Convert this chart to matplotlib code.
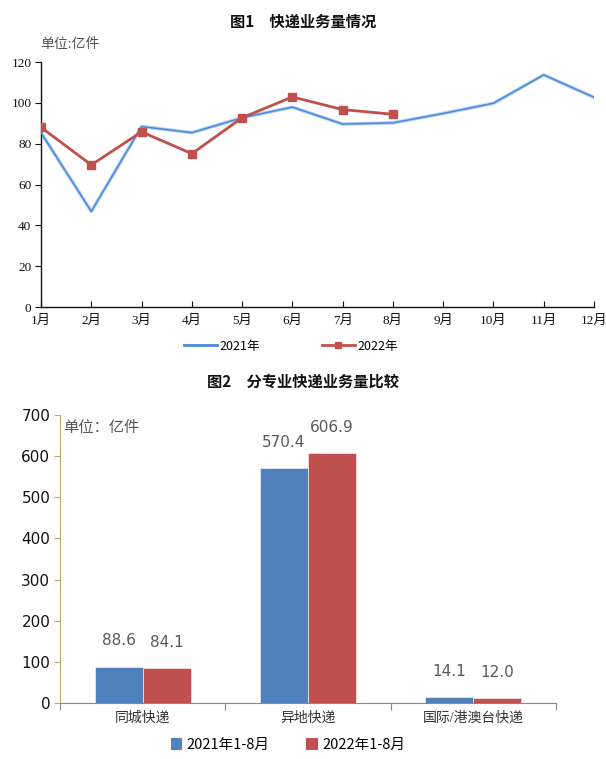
import matplotlib
matplotlib.use("Agg")
import matplotlib.pyplot as plt
from matplotlib.lines import Line2D
from matplotlib.patches import Patch
import numpy as np

# ---- data ----
months = ["1月", "2月", "3月", "4月", "5月", "6月", "7月", "8月", "9月", "10月", "11月", "12月"]
vol_2021 = [85.4, 46.8, 88.4, 85.4, 92.7, 97.9, 89.6, 90.2, 94.8, 99.8, 113.7, 102.7]
vol_2022 = [88.0, 69.6, 85.8, 75.1, 92.7, 102.9, 96.7, 94.4]
y1_ticks = [0, 20, 40, 60, 80, 100, 120]

categories = ["同城快递", "异地快递", "国际/港澳台快递"]
bar_2021 = [88.6, 570.4, 14.1]
bar_2022 = [84.1, 606.9, 12.0]
y2_ticks = [0, 100, 200, 300, 400, 500, 600, 700]

SANS = ["Noto Sans CJK SC", "DejaVu Sans"]
SERIF = ["Liberation Serif", "Noto Sans CJK SC"]
plt.rcParams["font.family"] = SANS

fig = plt.figure(figsize=(6.06, 7.59), dpi=100)

# ---------- Figure 1 ----------
fig.text(0.5, 0.971, "图1　快递业务量情况", ha="center", va="center",
         fontsize=11, fontweight="bold", color="#111111")
ax1 = fig.add_axes([0.0677, 0.5955, 0.9125, 0.3228])
x = np.arange(len(months))
ax1.plot(x, vol_2021, color="#B5D0F2", lw=2.6, solid_capstyle="round", zorder=2)
ax1.plot(x, vol_2021, color="#4A88D9", lw=1.1, zorder=3)
ax1.plot(np.arange(len(vol_2022)), vol_2022, color="#C0504D", lw=2.0,
         marker="s", markersize=5.5, zorder=4)
ax1.set_xlim(0, 11)
ax1.set_ylim(0, 120)
ax1.set_xticks(x)
ax1.set_xticklabels(months, fontfamily=SERIF, fontsize=9.5)
ax1.set_yticks(y1_ticks)
ax1.set_yticklabels([str(v) for v in y1_ticks], fontfamily=SERIF, fontsize=9.5)
ax1.tick_params(axis="x", direction="in", length=4, pad=6, colors="#111111")
ax1.tick_params(axis="y", direction="out", length=4, pad=3, colors="#111111")
for s in ["top", "right"]:
    ax1.spines[s].set_visible(False)
for s in ["left", "bottom"]:
    ax1.spines[s].set_color("#111111")
    ax1.spines[s].set_linewidth(1.0)
fig.text(0.067, 0.942, "单位:亿件", fontsize=10, color="#555555",
         fontfamily=SERIF, ha="left", va="center")

h1 = Line2D([], [], color="#4A88D9", lw=2.0)
h2 = Line2D([], [], color="#C0504D", lw=2.0, marker="s", markersize=5)
fig.legend([h1, h2], ["2021年", "2022年"], loc="center", bbox_to_anchor=(0.48, 0.544),
           ncol=2, frameon=False, fontsize=9, handlelength=2.6, columnspacing=5.0,
           handletextpad=0.2)

# ---------- Figure 2 ----------
fig.text(0.5, 0.4967, "图2　分专业快递业务量比较", ha="center", va="center",
         fontsize=11, fontweight="bold", color="#111111")
ax2 = fig.add_axes([0.099, 0.0738, 0.8185, 0.3794])
xc = np.arange(len(categories))
w = 0.29
b1 = ax2.bar(xc - w / 2, bar_2021, width=w, color="#4F81BD", edgecolor="#DCE6F2", lw=0.6, zorder=3)
b2 = ax2.bar(xc + w / 2, bar_2022, width=w, color="#C0504D", edgecolor="#F2DCDB", lw=0.6, zorder=3)
for bars, vals in ((b1, bar_2021), (b2, bar_2022)):
    for r, v in zip(bars, vals):
        ax2.annotate(f"{v:.1f}", (r.get_x() + r.get_width() / 2, v),
                     xytext=(0, 13), textcoords="offset points", ha="center",
                     va="bottom", fontsize=11, color="#595959", fontfamily="DejaVu Sans")
ax2.set_xlim(-0.5, 2.5)
ax2.set_ylim(0, 700)
ax2.set_yticks(y2_ticks)
ax2.set_yticklabels([str(v) for v in y2_ticks], fontsize=11, fontfamily="DejaVu Sans")
ax2.set_xticks([-0.5, 0.5, 1.5, 2.5], minor=False)
ax2.set_xticklabels([])
ax2.set_xticks(xc, minor=True)
ax2.set_xticklabels(categories, minor=True, fontsize=10, fontfamily=SERIF, color="#333333")
ax2.tick_params(axis="x", which="major", direction="out", length=5, color="#888888")
ax2.tick_params(axis="x", which="minor", length=0, pad=6)
ax2.tick_params(axis="y", direction="out", length=4, color="#B8A96F", pad=3)
ax2.tick_params(axis="y", labelcolor="#111111")
for s in ["top", "right"]:
    ax2.spines[s].set_visible(False)
ax2.spines["left"].set_color("#B8A96F")
ax2.spines["bottom"].set_color("#888888")
fig.text(0.104, 0.437, "单位：亿件", fontsize=11, color="#555555", ha="left", va="center")

hp1 = Patch(facecolor="#4F81BD")
hp2 = Patch(facecolor="#C0504D")
fig.legend([hp1, hp2], ["2021年1-8月", "2022年1-8月"], loc="center",
           bbox_to_anchor=(0.475, 0.0184), ncol=2, frameon=False, fontsize=10.5,
           handlelength=0.8, handleheight=0.8, columnspacing=2.5, handletextpad=0.3)

fig.savefig("out.png", dpi=100)
